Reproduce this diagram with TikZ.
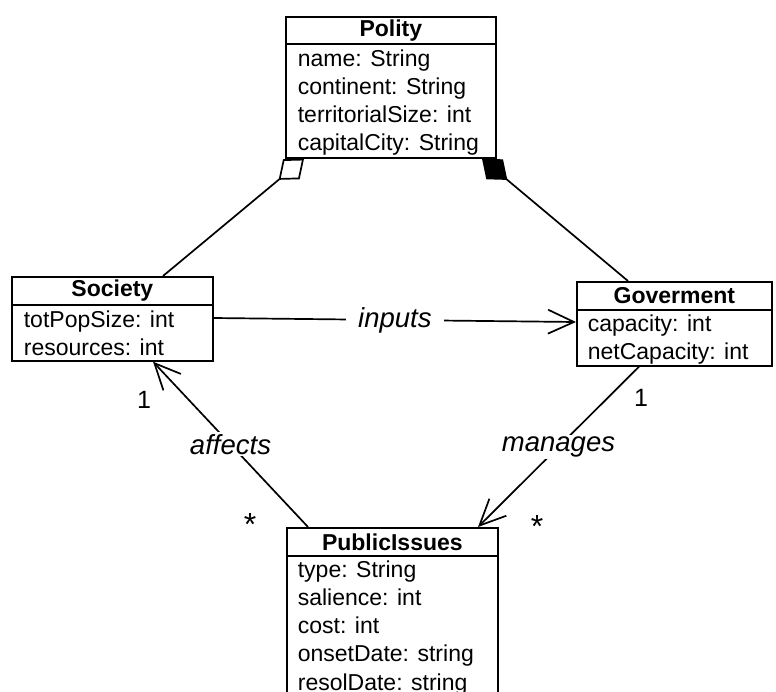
\documentclass[tikz,border=0pt]{standalone}
\usepackage{fontspec}
\setmainfont{Liberation Sans}
\usetikzlibrary{arrows.meta}
\begin{document}
\begin{tikzpicture}[x=1pt,y=-1pt, line width=1.7pt,
  box/.style={draw, anchor=north west, inner sep=0pt, line width=1.7pt},
  ttl/.style={font=\bfseries\fontsize{23}{28}\selectfont},
  attr/.style={anchor=base west, inner sep=0pt, font=\fontsize{23}{28}\selectfont},
  lbl/.style={font=\itshape\fontsize{27.5}{32}\selectfont, fill=white, inner xsep=12pt, inner ysep=2pt},
  mult/.style={font=\fontsize{25}{28}\selectfont, inner sep=0pt},
  star/.style={font=\fontsize{32}{34}\selectfont, inner sep=0pt},
  assoc/.style={-{Straight Barb[length=26pt,width=24pt,line width=1.7pt]}},
  aggr/.style={-{Diamond[open,length=33pt,width=26pt,line width=1.7pt]}},
  comp/.style={-{Diamond[fill=black,length=33pt,width=26pt,line width=1.7pt]}}
]
\useasboundingbox (0,0) rectangle (776,691);
\clip (0,0) rectangle (776,691);
\fill[white] (0,0) rectangle (776,691);

% Polity
\node[box, minimum width=210pt, minimum height=27pt, ttl] (polHead) at (285,16) {Polity};
\node[box, minimum width=210pt, minimum height=114pt] (polBody) at (285,43) {};
\foreach \txt [count=\i] in {name: String, continent: String, territorialSize: int, capitalCity: String}
  \node[attr] (polA\i) at (297,{66+28.3*(\i-1)}) {\txt};

% Society
\node[box, minimum width=201pt, minimum height=28pt, ttl] (socHead) at (11,276) {Society};
\node[box, minimum width=201pt, minimum height=56pt] (socBody) at (11,304) {};
\foreach \txt [count=\i] in {totPopSize: int, resources: int}
  \node[attr] (socA\i) at (23,{327+28*(\i-1)}) {\txt};

% Goverment
\node[box, minimum width=195pt, minimum height=28pt, ttl] (govHead) at (576,281) {Goverment};
\node[box, minimum width=195pt, minimum height=56pt] (govBody) at (576,309) {};
\foreach \txt [count=\i] in {capacity: int, netCapacity: int}
  \node[attr] (govA\i) at (587,{331+28*(\i-1)}) {\txt};

% PublicIssues
\node[box, minimum width=211pt, minimum height=28pt, ttl] (piHead) at (286,527) {PublicIssues};
\node[box, minimum width=211pt, minimum height=180pt] (piBody) at (286,555) {};
\foreach \txt [count=\i] in {type: String, salience: int, cost: int, onsetDate: string, resolDate: string}
  \node[attr] (piA\i) at (297,{577+28.3*(\i-1)}) {\txt};

% connectors
\draw[aggr] ([xshift=152pt]socHead.north west) -- ([xshift=19pt]polBody.south west);
\draw[comp] ([xshift=52pt]govHead.north west) -- ([xshift=197pt]polBody.south west);
\draw[assoc] ([yshift=-14pt]socBody.north east) -- node[lbl] (inLbl) {inputs} ([yshift=-13pt]govBody.north west);
\draw[assoc] ([xshift=22pt]piHead.north west) -- node[lbl] (afLbl) {affects} ([xshift=142pt]socBody.south west);
\draw[assoc] ([xshift=63pt]govBody.south west) -- node[lbl] (mgLbl) {manages} ([xshift=192pt]piHead.north west);

% multiplicities
\node[mult] (m1) at (144,400) {1};
\node[star] (m2) at (250,524) {*};
\node[mult] (m3) at (641,398) {1};
\node[star] (m4) at (537,526) {*};
\end{tikzpicture}
\end{document}
